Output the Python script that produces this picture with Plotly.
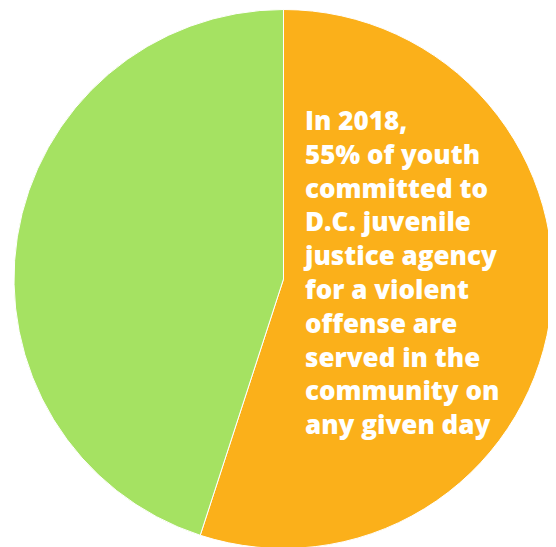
import plotly.graph_objects as go

labels = ["Served in the community", "Other"]
values = [55, 45]
colors = ["#FBB01A", "#A5E262"]
note_lines = ["In 2018,", "55% of youth", "committed to", "D.C. juvenile",
              "justice agency", "for a violent", "offense are",
              "served in the", "community on", "any given day"]

W, H = 556, 547
OFF = 8  # page body margin
fig = go.Figure(go.Pie(
    labels=labels, values=values, sort=False, direction="clockwise", rotation=0,
    marker=dict(colors=colors, line=dict(color="white", width=1)),
    textinfo="none", hoverinfo="label+percent", showlegend=False,
    domain=dict(x=[(14-OFF)/W, (553-OFF)/W], y=[(H-(549-OFF))/H, (H-(9-OFF))/H]),
))
fig.add_annotation(
    text="<br>".join(note_lines), x=(301-OFF)/W, y=1-(100-OFF)/H, xref="paper", yref="paper",
    xanchor="left", yanchor="top", align="left", showarrow=False,
    font=dict(family="Open Sans", size=26, color="white", weight=800),
)
fig.update_layout(width=W, height=H, margin=dict(l=0, r=0, t=0, b=0),
                  paper_bgcolor="white", plot_bgcolor="white")
fig.write_html("out.html")
